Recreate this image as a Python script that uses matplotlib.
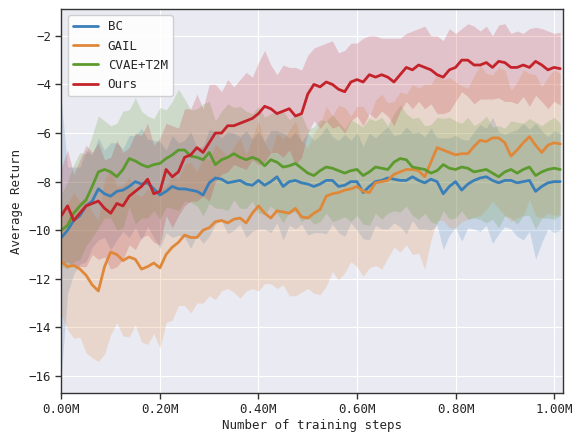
import numpy as np
import matplotlib
matplotlib.use('Agg')
import matplotlib.pyplot as plt
import seaborn as sns

# training steps, one sample every 12.5k steps
steps = np.arange(82) * 12500

bc_mean = [-10.3, -10.0, -9.6, -9.4, -9.0, -8.8, -8.3, -8.5, -8.6, -8.4,
           -8.35, -8.2, -8.0, -8.1, -8.05, -8.3, -8.55, -8.4, -8.2, -8.3,
           -8.3, -8.35, -8.4, -8.55, -8.05, -7.85, -7.9, -8.05, -8.0, -7.95,
           -8.1, -8.15, -7.95, -8.15, -8.0, -7.8, -8.2, -8.0, -7.95, -8.05,
           -8.1, -8.2, -8.1, -7.95, -7.95, -8.2, -8.15, -8.0, -8.0, -8.45,
           -8.2, -8.0, -7.95, -7.85, -7.9, -7.95, -7.95, -7.8, -7.95, -8.05,
           -7.9, -8.0, -8.5, -8.2, -8.0, -8.35, -8.1, -7.95, -7.85, -7.8,
           -7.95, -8.05, -7.95, -7.95, -8.05, -8.0, -7.95, -8.4, -8.2, -8.05,
           -8.0, -8.0]
bc_spread = [5.6, 2.6, 2.2, 2.0, 2.3, 1.9, 2.1, 1.8, 2.2, 2.0,
             1.7, 2.1, 1.9, 2.3, 1.8, 2.0, 2.2, 1.7, 2.1, 1.9,
             2.0, 2.4, 1.8, 2.0, 2.2, 1.9, 1.7, 2.1, 2.0, 1.8,
             2.2, 1.9, 2.0, 1.8, 2.1, 1.9, 2.2, 1.8, 2.0, 1.7,
             2.1, 1.9, 2.0, 2.2, 1.8, 1.9, 2.1, 1.7, 2.0, 1.9,
             2.2, 1.8, 2.0, 2.1, 1.8, 1.9, 2.2, 1.8, 2.0, 1.9,
             2.1, 1.8, 2.3, 2.0, 1.9, 2.1, 1.8, 2.0, 2.2, 2.0,
             2.6, 2.1, 1.9, 2.0, 2.2, 2.4, 2.1, 2.8, 2.3, 1.9,
             2.1, 2.0]

gail_mean = [-11.3, -11.5, -11.45, -11.6, -11.85, -12.25, -12.5, -11.5, -10.9, -11.0,
             -11.25, -11.1, -11.2, -11.6, -11.5, -11.35, -11.55, -11.0, -10.7, -10.5,
             -10.2, -10.3, -10.3, -10.0, -9.9, -9.65, -9.6, -9.7, -9.55, -9.5,
             -9.7, -9.3, -9.0, -9.3, -9.5, -9.2, -9.25, -9.3, -9.1, -9.45,
             -9.5, -9.3, -9.15, -8.6, -8.5, -8.45, -8.35, -8.3, -8.2, -8.4,
             -8.45, -8.05, -8.0, -7.95, -7.7, -7.6, -7.5, -7.5, -7.55, -7.8,
             -7.2, -6.6, -6.7, -6.8, -6.9, -6.85, -6.85, -6.55, -6.3, -6.35,
             -6.2, -6.2, -6.4, -6.95, -6.7, -6.4, -6.15, -6.5, -6.8, -6.5,
             -6.4, -6.45]
gail_spread = [2.2, 2.6, 3.0, 2.8, 3.2, 3.0, 2.9, 3.6, 3.4, 2.8,
               3.1, 3.3, 2.7, 3.0, 3.2, 2.9, 3.3, 2.8, 3.0, 2.6,
               2.9, 3.1, 2.7, 3.0, 2.8, 3.2, 2.9, 2.7, 3.0, 3.3,
               2.8, 3.1, 3.5, 2.9, 2.7, 3.2, 3.0, 3.4, 3.6, 3.1,
               2.9, 3.3, 3.5, 3.7, 3.2, 3.6, 3.4, 3.0, 3.3, 3.5,
               3.1, 3.4, 3.6, 3.2, 3.0, 3.3, 3.1, 3.5, 3.4, 3.8,
               3.2, 3.0, 2.9, 3.1, 3.0, 2.8, 2.7, 2.9, 3.1, 2.8,
               2.6, 2.9, 3.0, 2.7, 2.8, 3.0, 2.6, 2.9, 2.7, 2.8,
               3.0, 2.9]

cvae_mean = [-10.0, -9.8, -9.3, -9.0, -8.75, -8.2, -7.6, -7.5, -7.6, -7.8,
             -7.5, -7.05, -7.15, -7.3, -7.4, -7.3, -7.25, -7.05, -6.9, -6.7,
             -6.7, -6.95, -7.0, -7.1, -6.8, -7.3, -7.1, -7.0, -6.85, -7.0,
             -7.1, -7.0, -7.1, -7.35, -7.1, -7.2, -7.4, -7.35, -7.25, -7.45,
             -7.65, -7.75, -7.55, -7.4, -7.45, -7.55, -7.65, -7.55, -7.5, -7.75,
             -7.6, -7.4, -7.45, -7.5, -7.2, -7.05, -7.1, -7.4, -7.45, -7.5,
             -7.65, -7.55, -7.3, -7.45, -7.5, -7.4, -7.45, -7.6, -7.55, -7.5,
             -7.65, -7.8, -7.6, -7.5, -7.65, -7.5, -7.4, -7.75, -7.6, -7.5,
             -7.45, -7.5]
cvae_spread = [1.5, 1.8, 2.0, 2.2, 1.9, 2.1, 2.3, 2.0, 1.9, 2.2,
               2.4, 2.0, 2.6, 2.2, 2.1, 1.9, 2.3, 2.0, 2.2, 2.5,
               2.1, 1.9, 2.0, 2.3, 2.1, 1.8, 2.0, 2.2, 1.9, 2.1,
               2.0, 1.8, 2.2, 2.0, 1.9, 2.1, 2.3, 1.9, 2.0, 2.2,
               1.8, 2.0, 2.1, 1.9, 2.2, 2.0, 1.8, 2.1, 1.9, 2.0,
               2.2, 1.9, 2.1, 1.8, 2.0, 2.2, 1.9, 2.0, 2.1, 1.8,
               2.0, 2.2, 1.9, 2.1, 2.0, 1.8, 2.1, 1.9, 2.0, 2.2,
               1.9, 2.1, 1.8, 2.0, 2.1, 1.9, 2.0, 2.2, 1.9, 2.0,
               2.1, 1.9]

ours_mean = [-9.4, -9.0, -9.6, -9.3, -9.0, -8.9, -8.8, -9.1, -9.3, -8.9,
             -9.0, -8.6, -8.4, -8.2, -7.9, -8.5, -8.4, -7.5, -7.8, -7.6,
             -7.0, -6.9, -6.6, -6.8, -6.4, -6.0, -6.0, -5.7, -5.7, -5.6,
             -5.5, -5.4, -5.2, -4.9, -5.0, -5.2, -5.1, -5.0, -5.3, -5.2,
             -4.4, -4.0, -4.1, -3.9, -4.0, -4.2, -4.3, -3.9, -3.8, -3.9,
             -3.6, -3.7, -3.6, -3.7, -3.9, -3.6, -3.3, -3.4, -3.2, -3.3,
             -3.4, -3.6, -3.7, -3.4, -3.3, -3.0, -3.0, -3.2, -3.2, -3.1,
             -3.3, -3.05, -3.1, -3.3, -3.3, -3.2, -3.3, -3.05, -3.2, -3.4,
             -3.3, -3.35]
ours_spread = [2.0, 2.3, 1.9, 2.2, 2.5, 2.1, 2.4, 2.0, 2.3, 2.6,
               2.2, 2.0, 2.4, 2.1, 2.3, 2.0, 2.2, 1.9, 2.1, 1.8,
               2.0, 1.9, 2.2, 1.8, 2.4, 2.0, 1.7, 1.9, 1.6, 1.8,
               2.0, 1.7, 2.1, 2.3, 1.8, 1.6, 1.9, 1.7, 2.0, 1.8,
               1.6, 1.5, 1.7, 1.6, 1.8, 1.5, 1.7, 1.6, 1.5, 1.8,
               1.6, 1.7, 1.5, 1.6, 1.8, 1.5, 1.4, 1.6, 1.5, 1.7,
               1.4, 1.6, 1.5, 1.7, 1.4, 1.3, 1.5, 1.6, 1.4, 1.5,
               1.3, 1.5, 1.6, 1.4, 1.5, 1.3, 1.6, 1.4, 1.5, 1.6,
               1.4, 1.5]

labels = ['BC', 'GAIL', 'CVAE+T2M', 'Ours']
colors = ['#3a7fb8', '#e0883a', '#5c9a2e', '#c4232b']

sns.set_style('darkgrid')
plt.rcParams['font.family'] = ['DejaVu Sans Mono']

fig = plt.figure(figsize=(5.74, 4.34), dpi=100)
ax = fig.add_axes([0.107, 0.0945, 0.874, 0.8845])

series = [(bc_mean, bc_spread), (gail_mean, gail_spread),
          (cvae_mean, cvae_spread), (ours_mean, ours_spread)]
for (m, s), lab, c in zip(series, labels, colors):
    m = np.array(m)
    s = np.array(s)
    ax.fill_between(steps, m - s, m + s, color=c, alpha=0.2, linewidth=0)
for (m, s), lab, c in zip(series, labels, colors):
    ax.plot(steps, m, color=c, linewidth=2, label=lab)

ax.set_xlim(0, 1.0183e6)
ax.set_ylim(-16.7, -0.9)
ax.set_xticks([0, 2e5, 4e5, 6e5, 8e5, 1e6])
ax.xaxis.set_major_formatter(plt.FuncFormatter(lambda v, p: '%.2fM' % (v / 1e6)))
ax.set_yticks([-16, -14, -12, -10, -8, -6, -4, -2])
ax.tick_params(axis='both', labelsize=9, length=4, width=1, color='#333333',
               direction='out', bottom=True, left=True)
for sp in ax.spines.values():
    sp.set_visible(True)
    sp.set_color('#333333')
    sp.set_linewidth(1)

ax.set_xlabel('Number of training steps', fontsize=9, labelpad=2)
ax.set_ylabel('Average Return', fontsize=9, labelpad=4)
leg = ax.legend(loc='upper left', fontsize=9, frameon=True, facecolor='white',
                edgecolor='#cccccc', framealpha=0.9)

plt.savefig('out.png', dpi=100)
